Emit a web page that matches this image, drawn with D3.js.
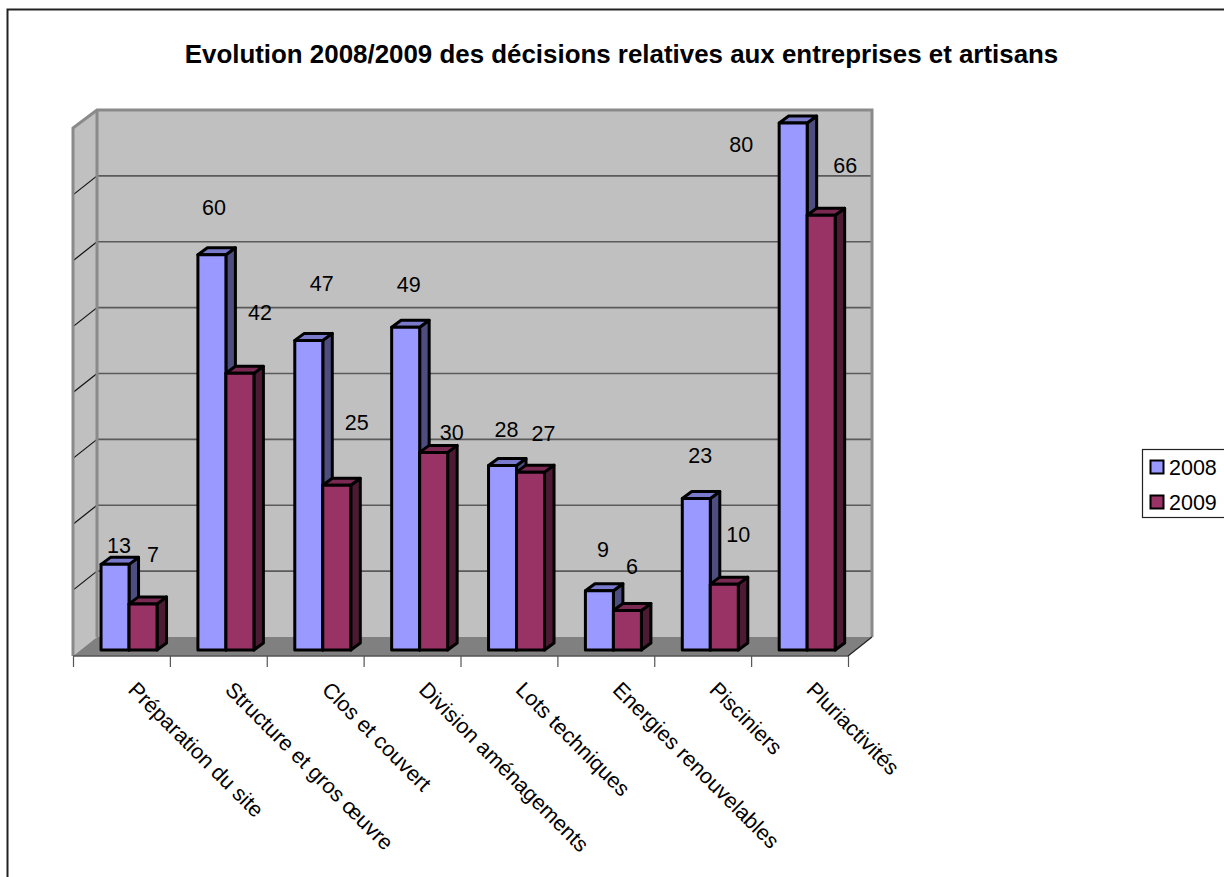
<!DOCTYPE html>
<html><head><meta charset="utf-8">
<script src="https://cdn.jsdelivr.net/npm/d3@7"></script>
<style>html,body{margin:0;padding:0;background:#fff;overflow:hidden}svg{display:block}text{font-family:"Liberation Sans",Arial,sans-serif;fill:#000}</style>
</head><body><svg id="c" width="1224" height="877"></svg>
<script>
const titleText = "Evolution 2008/2009 des décisions relatives aux entreprises et artisans";
const categories = ["Préparation du site","Structure et gros œuvre","Clos et couvert","Division aménagements","Lots techniques","Energies renouvelables","Pisciniers","Pluriactivités"];
const years = ["2008","2009"];
const values2008 = [13,60,47,49,28,9,23,80];
const values2009 = [7,42,25,30,27,6,10,66];

// layout only: the manual label placement of the original chart (px from bar top centre)
const nudge2008 = [[4,-19],[2,-47],[13,-57],[3,-43],[4,-36],[3.5,-41],[4,-43],[-52,21]];
const nudge2009 = [[10,-49],[20,-61],[20,-63],[18,-20],[13,-39],[4.5,-44],[14,-50],[24,-50]];

const faces = {
  "2008": {front:"#9999ff", top:"#7a7acc", side:"#4d4d80"},
  "2009": {front:"#993366", top:"#7a2952", side:"#4d1a33"}
};
const svg = d3.select("#c");
const depthX = 24, depthY = 19;          // floor depth
const barInX = 7.6, barInY = 6;          // bars stand inside the floor
const barDX = 9.5, barDY = 7;            // bar depth
const x0 = 73, x1 = 848, yFloor = 656, yTop = 129;
const fontSize = 21.5;

const idx = d3.scaleLinear().domain([0,categories.length]).range([x0,x1]);
const xCat = d3.scaleBand().domain(categories).range([x0,x1]);
const xYear = d3.scaleBand().domain(years).range([0,56]);
const y = d3.scaleLinear().domain([0,80]).range([yFloor,yTop]);

// frame (only top and left visible in the window)
svg.append("path").attr("d","M7.5,877V9.5H1224").attr("fill","none").attr("stroke","#222").attr("stroke-width",2);

// title
svg.append("text").attr("x",621.5).attr("y",63).attr("text-anchor","middle")
  .attr("font-size",25.9).attr("font-weight","bold").text(titleText);

// walls + floor
const pts = a => a.map(p=>p.join(",")).join(" ");
const g = svg.append("g");
const wallTopFront = yTop-1;
g.append("polygon").attr("points",pts([[x0+depthX,yTop-depthY],[x1+depthX,yTop-depthY],[x1+depthX,yFloor-depthY],[x0+depthX,yFloor-depthY]]))
  .attr("fill","#c0c0c0");
g.append("polygon").attr("points",pts([[x0,wallTopFront],[x0+depthX,yTop-depthY],[x0+depthX,yFloor-depthY],[x0,yFloor]]))
  .attr("fill","#c0c0c0");
g.append("polygon").attr("points",pts([[x0,yFloor],[x0+depthX,yFloor-depthY],[x1+depthX,yFloor-depthY],[x1,yFloor]]))
  .attr("fill","#808080");

// gridlines
const ticks = y.ticks(8);
const yBack = v => y(v)-depthY;
ticks.filter(t=>t>0 && t<80).forEach(t=>{
  g.append("line").attr("x1",x0+depthX).attr("x2",x1+depthX).attr("y1",yBack(t)).attr("y2",yBack(t))
    .attr("stroke","#5a5a5a").attr("stroke-width",1.6);
  g.append("line").attr("x1",x0).attr("x2",x0+depthX).attr("y1",y(t)).attr("y2",yBack(t))
    .attr("stroke","#111").attr("stroke-width",1.2);
});
// wall outlines
g.append("path").attr("d",`M${x0},${yFloor}V${wallTopFront}L${x0+depthX},${yTop-depthY}H${x1+depthX}V${yFloor-depthY}`)
  .attr("fill","none").attr("stroke","#8a8a8a").attr("stroke-width",3);
g.append("line").attr("x1",x0+depthX).attr("x2",x0+depthX).attr("y1",yTop-depthY).attr("y2",yFloor-depthY)
  .attr("stroke","#8a8a8a").attr("stroke-width",3);
g.append("line").attr("x1",x1).attr("x2",x1+depthX).attr("y1",yFloor).attr("y2",yFloor-depthY)
  .attr("stroke","#222").attr("stroke-width",1.2);

// category axis
const axis = svg.append("g").attr("transform",`translate(0,${yFloor})`)
  .call(d3.axisBottom(idx).tickValues(d3.range(categories.length+1)).tickSize(11).tickFormat(""));
axis.selectAll("path").attr("stroke","#555").attr("stroke-width",1.5).attr("d",`M${x0},0H${x1}`);
axis.selectAll("line").attr("stroke","#555").attr("stroke-width",1.2);

// bars
const margin = (xCat.bandwidth()-xYear.range()[1])/2 + barInX;
const bars = svg.append("g");
const series = {"2008":values2008,"2009":values2009};
categories.forEach((c,i)=>{
  years.forEach(yr=>{
    const v = series[yr][i], L = xCat(c)+margin+xYear(yr), R = L+xYear.bandwidth();
    const B = y(0)-barInY, T = y(v)-barInY, f = faces[yr];
    const bg = bars.append("g").attr("stroke","#000").attr("stroke-width",3).attr("stroke-linejoin","round");
    bg.append("polygon").attr("points",pts([[R,T],[R+barDX,T-barDY],[R+barDX,B-barDY],[R,B]])).attr("fill",f.side);
    bg.append("polygon").attr("points",pts([[L,T],[L+barDX,T-barDY],[R+barDX,T-barDY],[R,T]])).attr("fill",f.top);
    bg.append("rect").attr("x",L).attr("y",T).attr("width",R-L).attr("height",B-T).attr("fill",f.front);
  });
});

// data labels
const labels = svg.append("g").attr("font-size",fontSize).attr("text-anchor","middle");
categories.forEach((c,i)=>{
  years.forEach(yr=>{
    const v = series[yr][i], n = (yr==="2008"?nudge2008:nudge2009)[i];
    const cx = xCat(c)+margin+xYear(yr)+xYear.bandwidth()/2;
    labels.append("text").attr("x",cx+n[0]).attr("y",y(v)-barInY+n[1]+7.5).text(v);
  });
});

// category labels
categories.forEach((c,i)=>{
  const px = xCat(c)+54, py = 691;
  svg.append("text").attr("transform",`translate(${px},${py}) rotate(45)`).attr("font-size",fontSize).text(c);
});

// legend
const lg = svg.append("g");
lg.append("rect").attr("x",1142.5).attr("y",449.5).attr("width",100).attr("height",68)
  .attr("fill","#fff").attr("stroke","#222").attr("stroke-width",1.2);
years.forEach((yr,i)=>{
  const yy = 460+i*35;
  lg.append("rect").attr("x",1150.5).attr("y",yy+.5).attr("width",13).attr("height",13)
    .attr("fill",faces[yr].front).attr("stroke","#000").attr("stroke-width",2);
  lg.append("text").attr("x",1169).attr("y",yy+15).attr("font-size",fontSize).text(yr);
});
</script></body></html>
